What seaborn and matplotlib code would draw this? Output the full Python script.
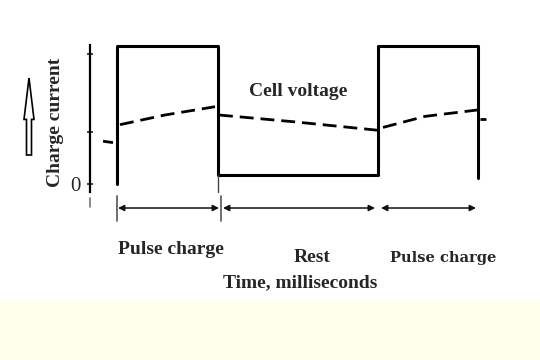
import numpy as np
import pandas as pd
import matplotlib
matplotlib.use('Agg')
import matplotlib.pyplot as plt
from matplotlib.patches import FancyArrow
import seaborn as sns

# ── Data (schematic time units, current normalised) ──
pulse_t = [2.7, 2.7, 12.8, 12.8, 28.8, 28.8, 38.8, 38.8]
pulse_i = [0.0, 1.0, 1.0, 0.065, 0.065, 1.0, 1.0, 0.045]

volt_seg = [0, 0, 1, 1, 1, 2, 2, 2, 3, 3, 3, 4, 4]
volt_t = [1.3, 2.3, 3.0, 7.5, 12.5, 12.9, 20.5, 28.7, 29.3, 33.5, 38.7, 39.0, 39.6]
volt_v = [0.31, 0.30, 0.43, 0.50, 0.56, 0.50, 0.45, 0.39, 0.41, 0.49, 0.536, 0.47, 0.47]

phase_start = [2.8, 13.3, 29.1]
phase_end = [12.9, 28.5, 38.6]
phase_labels = ['Pulse charge', 'Rest', 'Pulse charge']
phase_label_t = [8.1, 22.2, 35.3]
phase_label_y = [-0.478, -0.536, -0.536]
phase_label_size = [14, 14, 10.5]
phase_label_font = ['Liberation Serif', 'Liberation Serif', 'DejaVu Serif']

marker_t = [2.7, 13.1]
y_ticks = [0, 0.377, 0.94]
y_tick_labels = ['0', '', '']

pulse_df = pd.DataFrame({'t': pulse_t, 'i': pulse_i})
volt_df = pd.DataFrame({'seg': volt_seg, 't': volt_t, 'v': volt_v})

sns.set_style('white')
plt.rcParams['font.family'] = ['Liberation Serif', 'DejaVu Serif']

fig = plt.figure(figsize=(5.4, 3.6), dpi=100)
ax = fig.add_axes([0, 0, 1, 1])
ax.set_xlim(-9, 45)
ax.set_ylim(-1.2754, 1.3333)

# pale yellow strip at the bottom
ax.axhspan(-1.2754, -0.84, color='#fefeec', zorder=0, lw=0)

sns.lineplot(data=pulse_df, x='t', y='i', sort=False, estimator=None,
             color='black', lw=2.2, ax=ax)
sns.lineplot(data=volt_df, x='t', y='v', units='seg', sort=False,
             estimator=None, color='black', lw=2.0,
             linestyle=(0, (5, 2.5)), ax=ax)

# thin overshoot of the falling edge and little marks below axis
ax.plot([12.8, 12.8], [0.065, -0.06], color='#444', lw=1.0)
ax.plot([0, 0], [-0.10, -0.17], color='#777', lw=1.2)
for t in marker_t:
    ax.plot([t, t], [-0.09, -0.27], color='#555', lw=1.2)

for s, e in zip(phase_start, phase_end):
    ax.annotate('', xy=(e, -0.174), xytext=(s, -0.174),
                arrowprops=dict(arrowstyle='<|-|>', color='#111',
                                lw=1.1, mutation_scale=9,
                                shrinkA=0, shrinkB=0))

for lab, t, y, fs, fam in zip(phase_labels, phase_label_t, phase_label_y,
                              phase_label_size, phase_label_font):
    ax.text(t, y, lab, ha='center', va='center', fontsize=fs,
            fontweight='bold', family=fam)

ax.text(21.0, -0.717, 'Time, milliseconds', ha='center', va='center',
        fontsize=14, fontweight='bold')
ax.text(20.8, 0.667, 'Cell voltage', ha='center', va='center',
        fontsize=14, fontweight='bold')
ax.text(-3.4, 0.449, 'Charge current', ha='center', va='center',
        fontsize=14, fontweight='bold', rotation=90)

# hollow "increasing" arrow
ax.add_patch(FancyArrow(-6.1, 0.21, 0, 0.558, width=0.5, head_width=1.0,
                        head_length=0.3, length_includes_head=True,
                        fc='white', ec='black', lw=1.2))

# axes styling
for side in ['top', 'right', 'bottom']:
    ax.spines[side].set_visible(False)
ax.spines['left'].set_position(('data', 0))
ax.spines['left'].set_bounds(-0.058, 1.007)
ax.spines['left'].set_linewidth(1.6)
ax.spines['left'].set_color('black')
ax.set_xticks([])
ax.set_yticks(y_ticks)
ax.set_yticklabels(y_tick_labels, fontsize=15)
ax.tick_params(axis='y', direction='inout', length=5, width=1.2, pad=4,
               left=True)
ax.set_xlabel('')
ax.set_ylabel('')
ax.patch.set_facecolor('white')

fig.savefig('out.png', dpi=100, facecolor='white')
